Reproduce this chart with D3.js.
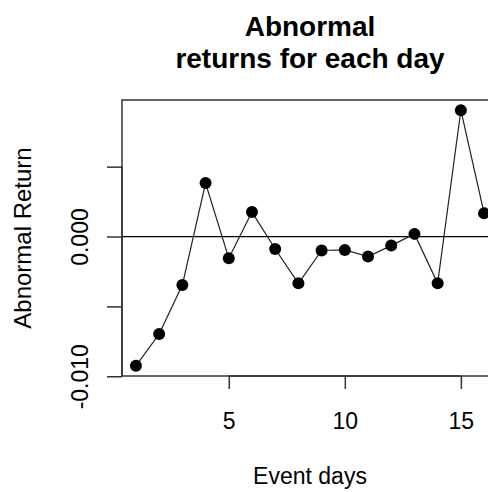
<!DOCTYPE html>
<html>
<head>
<meta charset="utf-8">
<script src="https://cdn.jsdelivr.net/npm/d3@7"></script>
<style>
  body { margin: 0; background: #fff; }
  text { font-family: "Liberation Sans", Arial, sans-serif; fill: #000; }
</style>
</head>
<body>
<script>
var width = 488, height = 492;

// event days and abnormal returns
var days = [1, 2, 3, 4, 5, 6, 7, 8, 9, 10, 11, 12, 13, 14, 15, 16];
var returns = [-0.00925, -0.00698, -0.00347, 0.00383, -0.00155, 0.00175, -0.00089, -0.00335,
               -0.00100, -0.00096, -0.00143, -0.00065, 0.00019, -0.00335, 0.00904, 0.00167];
var xTicks = [5, 10, 15];
var yTicks = [-0.010, -0.005, 0.000, 0.005];
var yLabels = ["-0.010", "", "0.000", ""];

var plotLeft = 122, plotRight = 498, plotTop = 100, plotBottom = 376;

var data = days.map(function(d, i) { return { day: d, value: returns[i] }; });

// R style 4% padding around data range
var xr = d3.extent(days), yr = d3.extent(returns);
var xp = (xr[1] - xr[0]) * 0.04, yp = (yr[1] - yr[0]) * 0.04;

var x = d3.scaleLinear().domain([xr[0] - xp, xr[1] + xp]).range([plotLeft, plotRight]);
var y = d3.scaleLinear().domain([yr[0] - yp, yr[1] + yp]).range([plotBottom, plotTop]);

var svg = d3.select("body").append("svg")
  .attr("width", width)
  .attr("height", height);

// zero line
svg.append("line")
  .attr("x1", plotLeft).attr("x2", plotRight)
  .attr("y1", y(0)).attr("y2", y(0))
  .attr("stroke", "#000").attr("stroke-width", 1.3);

svg.append("path")
  .datum(data)
  .attr("fill", "none")
  .attr("stroke", "#222")
  .attr("stroke-width", 1.2)
  .attr("d", d3.line().x(function(d) { return x(d.day); }).y(function(d) { return y(d.value); }));

svg.append("g").selectAll("circle")
  .data(data)
  .enter().append("circle")
    .attr("cx", function(d) { return x(d.day); })
    .attr("cy", function(d) { return y(d.value); })
    .attr("r", 6)
    .attr("fill", "#000");

// box
svg.append("rect")
  .attr("x", plotLeft).attr("y", plotTop)
  .attr("width", plotRight - plotLeft).attr("height", plotBottom - plotTop)
  .attr("fill", "none").attr("stroke", "#333").attr("stroke-width", 1.5);

// x axis
var xAxis = svg.append("g")
  .attr("transform", "translate(0," + plotBottom + ")")
  .call(d3.axisBottom(x).tickValues(xTicks).tickSize(13).tickPadding(24).tickSizeOuter(0));
xAxis.select(".domain").attr("d", "M" + x(xTicks[0]) + ",0H" + x(xTicks[xTicks.length - 1]))
  .attr("stroke", "#333").attr("stroke-width", 1.5);
xAxis.selectAll(".tick line").attr("stroke", "#333").attr("stroke-width", 1.5);
xAxis.selectAll("text").style("font-size", "23px").attr("font-family", null);

// y axis
var yAxis = svg.append("g")
  .attr("transform", "translate(" + plotLeft + ",0)")
  .call(d3.axisLeft(y).tickValues(yTicks).tickSize(15).tickSizeOuter(0)
    .tickFormat(function(d, i) { return yLabels[i]; }));
yAxis.select(".domain").attr("d", "M0," + y(yTicks[0]) + "V" + y(yTicks[yTicks.length - 1]))
  .attr("stroke", "#333").attr("stroke-width", 1.5);
yAxis.selectAll(".tick line").attr("stroke", "#333").attr("stroke-width", 1.5);
yAxis.selectAll(".tick text")
  .attr("x", null).attr("dy", null)
  .attr("text-anchor", "middle")
  .attr("transform", "translate(-34,0) rotate(-90)")
  .style("font-size", "23px").attr("font-family", null);

// titles
var cx = (plotLeft + plotRight) / 2;
svg.append("text").attr("x", cx).attr("y", 36).attr("text-anchor", "middle")
  .style("font-size", "28px").style("font-weight", "bold").text("Abnormal");
svg.append("text").attr("x", cx).attr("y", 68).attr("text-anchor", "middle")
  .style("font-size", "28px").style("font-weight", "bold").text("returns for each day");

svg.append("text").attr("x", cx).attr("y", 484).attr("text-anchor", "middle")
  .style("font-size", "23px").text("Event days");

svg.append("text")
  .attr("transform", "translate(31," + ((plotTop + plotBottom) / 2) + ") rotate(-90)")
  .attr("text-anchor", "middle")
  .style("font-size", "24px").text("Abnormal Return");
</script>
</body>
</html>
